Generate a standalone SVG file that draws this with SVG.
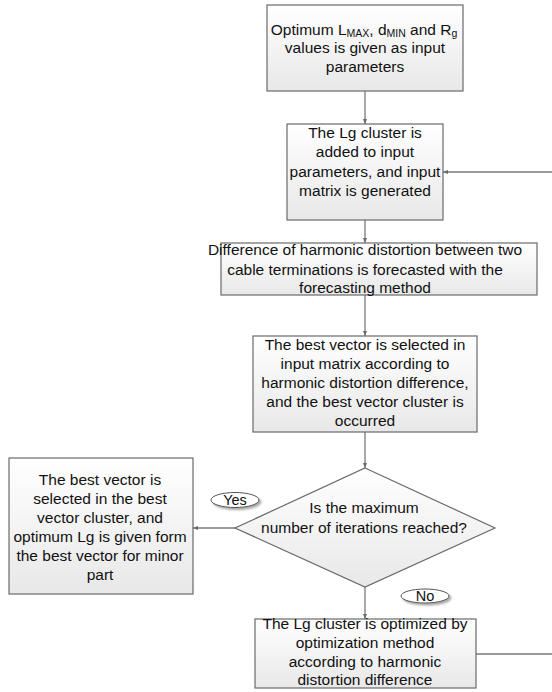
<svg xmlns="http://www.w3.org/2000/svg" width="552" height="692" viewBox="0 0 552 692">
<defs>
<linearGradient id="g" x1="0" y1="0" x2="0" y2="1">
<stop offset="0" stop-color="#ffffff"/>
<stop offset="1" stop-color="#e8e8e8"/>
</linearGradient>
<marker id="ah" markerWidth="6" markerHeight="6" refX="5" refY="3" orient="auto" markerUnits="userSpaceOnUse">
<path d="M0,1 L5,3 L0,5 Z" fill="#6a6a6a"/>
</marker>
<filter id="sh" x="-20%" y="-40%" width="150%" height="200%">
<feGaussianBlur in="SourceAlpha" stdDeviation="1"/>
<feOffset dx="2" dy="2" result="b"/>
<feComponentTransfer><feFuncA type="linear" slope="0.35"/></feComponentTransfer>
<feMerge><feMergeNode/><feMergeNode in="SourceGraphic"/></feMerge>
</filter>
</defs>
<style>
.box{fill:url(#g);stroke:#6a6a6a;stroke-width:1.2}
.t{font-family:"Liberation Sans",Arial,sans-serif;font-size:15.5px;fill:#111111;text-anchor:middle}
.s{font-size:10.5px}
.c{fill:none;stroke:#7a7a7a;stroke-width:1.3}
.lab{fill:#ffffff;stroke:#555555;stroke-width:1}
</style>
<g id="connectors">
<line class="c" x1="365" y1="91" x2="365" y2="124" marker-end="url(#ah)"/>
<line class="c" x1="365" y1="220" x2="365" y2="243" marker-end="url(#ah)"/>
<line class="c" x1="365" y1="295" x2="365" y2="336" marker-end="url(#ah)"/>
<line class="c" x1="365" y1="432" x2="365" y2="468" marker-end="url(#ah)"/>
<line class="c" x1="235" y1="528" x2="193" y2="528" marker-end="url(#ah)"/>
<line class="c" x1="365" y1="587" x2="365" y2="619" marker-end="url(#ah)"/>
<line class="c" x1="552" y1="172" x2="443" y2="172" marker-end="url(#ah)"/>
<line class="c" x1="476" y1="654" x2="552" y2="654"/>
</g>
<g id="n1">
<rect class="box" x="267" y="5" width="196" height="86"/>
<text class="t" x="364" y="35">Optimum L<tspan class="s" dy="2">MAX</tspan><tspan dy="-2">, d</tspan><tspan class="s" dy="2">MIN</tspan><tspan dy="-2"> and R</tspan><tspan class="s" dy="2">g</tspan></text>
<text class="t" x="365" y="53">values is given as input</text>
<text class="t" x="365" y="72">parameters</text>
</g>
<g id="n2">
<rect class="box" x="287" y="124" width="156" height="96"/>
<text class="t" x="365" y="138">The Lg cluster is</text>
<text class="t" x="365" y="157">added to input</text>
<text class="t" x="365" y="177">parameters, and input</text>
<text class="t" x="365" y="196">matrix is generated</text>
</g>
<g id="n3">
<rect class="box" x="221" y="243" width="316" height="52"/>
<text class="t" x="365" y="255">Difference of harmonic distortion between two</text>
<text class="t" x="365" y="275">cable terminations is forecasted with the</text>
<text class="t" x="365" y="293">forecasting method</text>
</g>
<g id="n4">
<rect class="box" x="253" y="336" width="224" height="96"/>
<text class="t" x="365" y="350">The best vector is selected in</text>
<text class="t" x="365" y="369">input matrix according to</text>
<text class="t" x="365" y="388">harmonic distortion difference,</text>
<text class="t" x="365" y="407">and the best vector cluster is</text>
<text class="t" x="365" y="426">occurred</text>
</g>
<g id="n5">
<polygon class="box" points="365,468 495,528 365,587 235,528"/>
<text class="t" x="364" y="513">Is the maximum</text>
<text class="t" x="364" y="533">number of iterations reached?</text>
</g>
<g id="n6">
<rect class="box" x="9" y="458" width="184" height="136"/>
<text class="t" x="100" y="485">The best vector is</text>
<text class="t" x="100" y="504">selected in the best</text>
<text class="t" x="100" y="523">vector cluster, and</text>
<text class="t" x="100" y="542">optimum Lg is given form</text>
<text class="t" x="100" y="561">the best vector for minor</text>
<text class="t" x="100" y="580">part</text>
</g>
<g id="n7">
<rect class="box" x="255" y="619" width="221" height="69"/>
<text class="t" x="365" y="629">The Lg cluster is optimized by</text>
<text class="t" x="365" y="648">optimization method</text>
<text class="t" x="365" y="667">according to harmonic</text>
<text class="t" x="365" y="685">distortion difference</text>
</g>
<g id="yes">
<ellipse class="lab" cx="235" cy="500" rx="24" ry="7.5" filter="url(#sh)"/>
<text class="t" x="235" y="505" style="font-size:14.5px">Yes</text>
</g>
<g id="no">
<ellipse class="lab" cx="425" cy="596" rx="24" ry="7" filter="url(#sh)"/>
<text class="t" x="425" y="601" style="font-size:14.5px">No</text>
</g>
</svg>
